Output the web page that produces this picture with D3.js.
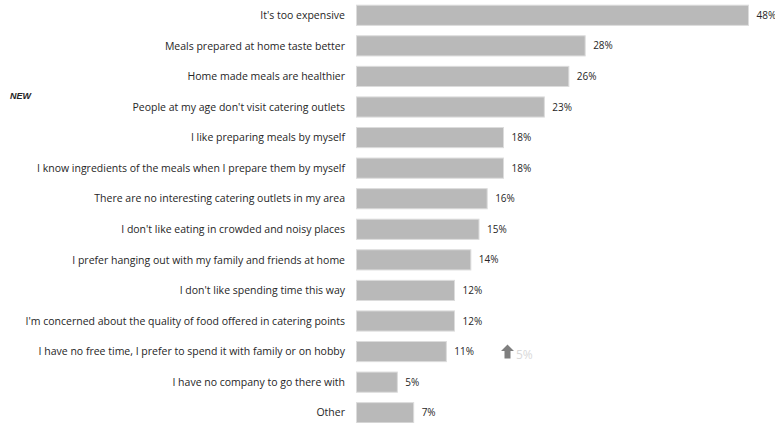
<!DOCTYPE html>
<html>
<head>
<meta charset="utf-8">
<script src="https://cdn.jsdelivr.net/npm/d3@7/dist/d3.min.js"></script>
<style>
  html, body { margin: 0; padding: 0; background: #fff; }
  svg { display: block; }
</style>
</head>
<body>
<svg id="chart" width="775" height="423"></svg>
<script>
// Reasons for not visiting catering outlets (share of respondents, %)
const categories = [
  "It's too expensive",
  "Meals prepared at home taste better",
  "Home made meals are healthier",
  "People at my age don't visit catering outlets",
  "I like preparing meals by myself",
  "I know ingredients of the meals when I prepare them by myself",
  "There are no interesting catering outlets in my area",
  "I don't like eating in crowded and noisy places",
  "I prefer hanging out with my family and friends at home",
  "I don't like spending time this way",
  "I'm concerned about the quality of food offered in catering points",
  "I have no free time, I prefer to spend it with family or on hobby",
  "I have no company to go there with",
  "Other"
];
const values = [48, 28, 26, 23, 18, 18, 16, 15, 14, 12, 12, 11, 5, 7];

// Change versus previous wave, shown only where notable
const changeCategory = "I have no free time, I prefer to spend it with family or on hobby";
const changeValue = 5;

// Marker for a newly introduced answer option
const newCategory = "People at my age don't visit catering outlets";
const newLabel = "NEW";

const svg = d3.select("#chart");
const font = "'Open Sans', 'Noto Sans', sans-serif";
const boldFont = "'Liberation Sans', Arial, sans-serif";

const x = d3.scaleLinear().domain([0, 48]).range([356.5, 748.5]);
const y = d3.scaleBand().domain(categories).range([0, 428]).paddingInner(0.34).paddingOuter(0.17);

// Bars
svg.append("g").selectAll("rect")
  .data(categories)
  .join("rect")
  .attr("x", x(0))
  .attr("y", d => y(d))
  .attr("width", (d, i) => x(values[i]) - x(0))
  .attr("height", y.bandwidth())
  .attr("fill", "#b9b9b9")
  .attr("stroke", "#dcdcdc")
  .attr("stroke-width", 1);

// Category labels
svg.append("g").selectAll("text")
  .data(categories)
  .join("text")
  .attr("x", 345)
  .attr("y", d => y(d) + y.bandwidth() / 2)
  .attr("dy", "0.35em")
  .attr("text-anchor", "end")
  .attr("font-family", font)
  .attr("font-size", 10.5)
  .attr("fill", "#262626")
  .text(d => d);

// Value labels
svg.append("g").selectAll("text")
  .data(categories)
  .join("text")
  .attr("x", (d, i) => x(values[i]) + 8)
  .attr("y", d => y(d) + y.bandwidth() / 2)
  .attr("dy", "0.35em")
  .attr("font-family", font)
  .attr("font-size", 10)
  .attr("fill", "#262626")
  .text((d, i) => values[i] + "%");

// "NEW" marker
svg.append("text")
  .attr("x", 10)
  .attr("y", y(newCategory) - 1.5)
  .attr("dy", "0.35em")
  .attr("font-family", boldFont)
  .attr("font-size", 9)
  .attr("font-weight", "bold")
  .attr("font-style", "italic")
  .attr("fill", "#262626")
  .text(newLabel);

// Change indicator: up arrow + value
const cy = y(changeCategory) + y.bandwidth() / 2 + 3;
const ax = 501;
const arrow = svg.append("g").attr("transform", `translate(${ax},${cy})`);
arrow.append("path")
  .attr("d", "M6.5,-10 L13,-3.5 L9.5,-3.5 L9.5,4 L3.5,4 L3.5,-3.5 L0,-3.5 Z")
  .attr("fill", "#7f7f7f");
svg.append("text")
  .attr("x", ax + 15)
  .attr("y", cy)
  .attr("dy", "0.35em")
  .attr("font-family", font)
  .attr("font-size", 12)
  .attr("fill", "#d9d9d9")
  .text(changeValue + "%");
</script>
</body>
</html>
